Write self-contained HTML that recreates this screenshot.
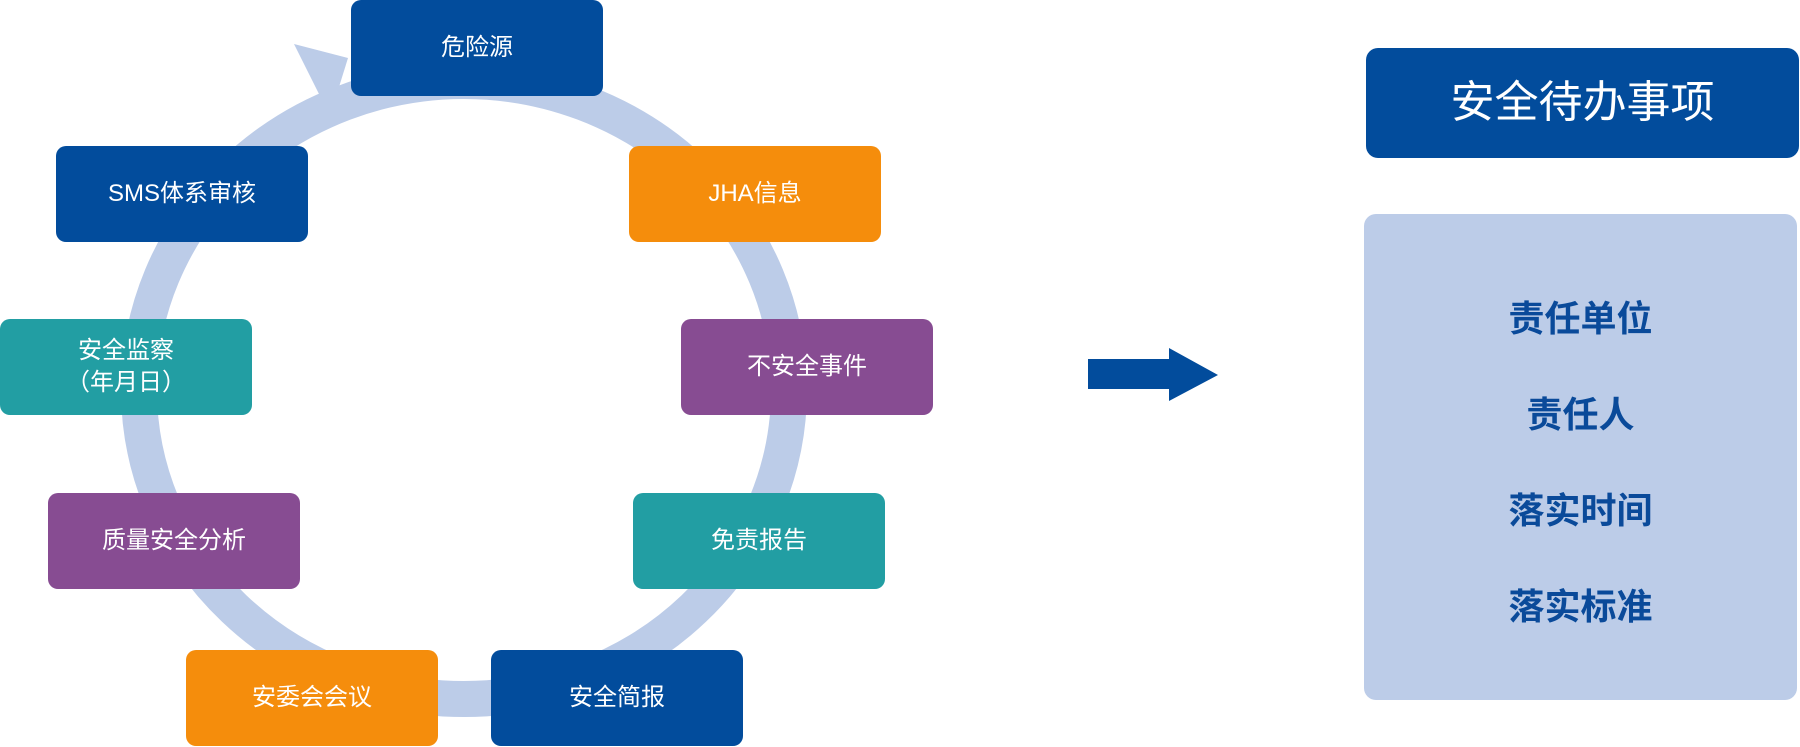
<!DOCTYPE html>
<html><head><meta charset="utf-8">
<style>
html,body{margin:0;padding:0;background:#fff;}
body{width:1800px;height:747px;position:relative;overflow:hidden;font-family:"Liberation Sans","Noto Sans CJK SC",sans-serif;}
.b{position:absolute;width:252px;height:96px;border-radius:10px;color:#fff;font-size:24px;display:flex;align-items:center;justify-content:center;text-align:center;line-height:1.35;}
.n{background:#024c9c}.o{background:#f58d0c}.t{background:#229ea3}.p{background:#874c92}
svg{position:absolute;left:0;top:0;}
.items{position:absolute;left:1364px;top:214px;width:433px;height:486px;background:#bccce8;border-radius:12px;}
.items div{position:absolute;width:100%;text-align:center;color:#0a4a9a;font-size:36px;font-weight:bold;}
</style></head><body>
<svg width="1800" height="747">
<ellipse cx="464" cy="390" rx="325" ry="309" fill="none" stroke="#bccce8" stroke-width="36"/>
<polygon points="294,44 348,58 330,116" fill="#bccce8"/>
<polygon points="1088,359 1169,359 1169,348 1218,375 1169,401 1169,389 1088,389" fill="#024c9c"/>
</svg>
<div class="b n" style="left:351px;top:0px;">危险源</div>
<div class="b n" style="left:56px;top:146px;">SMS体系审核</div>
<div class="b o" style="left:629px;top:146px;">JHA信息</div>
<div class="b t" style="left:0px;top:319px;">安全监察<br>（年月日）</div>
<div class="b p" style="left:681px;top:319px;">不安全事件</div>
<div class="b p" style="left:48px;top:493px;">质量安全分析</div>
<div class="b t" style="left:633px;top:493px;">免责报告</div>
<div class="b o" style="left:186px;top:650px;">安委会会议</div>
<div class="b n" style="left:491px;top:650px;">安全简报</div>
<div class="b n" style="left:1366px;top:48px;width:433px;height:110px;font-size:44px;border-radius:12px;">安全待办事项</div>
<div class="items">
<div style="top:76px;">责任单位</div>
<div style="top:172px;">责任人</div>
<div style="top:268px;">落实时间</div>
<div style="top:364px;">落实标准</div>
</div>
</body></html>
